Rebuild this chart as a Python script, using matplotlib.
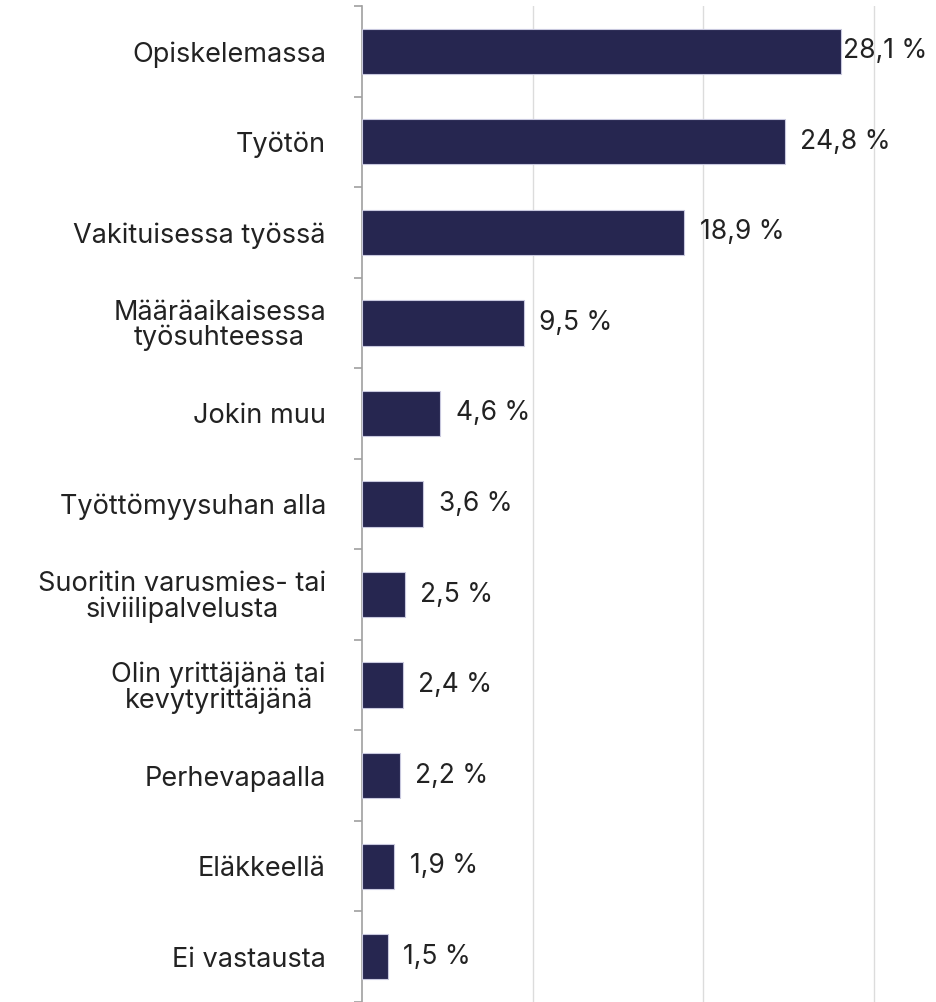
import numpy as np
import matplotlib
matplotlib.use("Agg")
import matplotlib.pyplot as plt

categories = [
    "Opiskelemassa",
    "Työtön",
    "Vakituisessa työssä",
    "Määräaikaisessa\ntyösuhteessa",
    "Jokin muu",
    "Työttömyysuhan alla",
    "Suoritin varusmies- tai\nsiviilipalvelusta",
    "Olin yrittäjänä tai\nkevytyrittäjänä",
    "Perhevapaalla",
    "Eläkkeellä",
    "Ei vastausta",
]
values = [28.1, 24.8, 18.9, 9.5, 4.6, 3.6, 2.5, 2.4, 2.2, 1.9, 1.5]
gridlines = [10, 20, 30]

plt.rcParams["font.family"] = ["Inter", "DejaVu Sans"]

fig = plt.figure(figsize=(9.36, 10.02), dpi=100)
ax = fig.add_axes([362 / 936, 0.0, 1 - 362 / 936, 1 - 6 / 1002])

y = np.arange(len(categories))
ax.barh(y, values, height=0.5, color="#262650", edgecolor="#c8c8de", linewidth=0.8, zorder=3)

ax.set_xlim(0, 33.65)
ax.set_ylim(len(categories) - 0.5, -0.5)

for g in gridlines:
    ax.axvline(g, color="#dcdcdc", linewidth=1, zorder=1)

for i, v in enumerate(values):
    pad = 1 if v == max(values) else 11
    ax.annotate(f"{v:.1f} %".replace(".", ","), (v, i), xytext=(pad, 0),
                textcoords="offset points", va="center", ha="left",
                fontsize=19, color="#222222")

ax.set_yticks(y)
ax.set_yticklabels(categories, fontsize=19.5, color="#222222",
                   multialignment="center", linespacing=0.95)
ax.set_yticks(np.arange(-0.5, len(categories) + 0.5, 1), minor=True)
ax.tick_params(axis="y", which="major", length=0, pad=26)
ax.tick_params(axis="y", which="minor", length=6, color="#a0a0a0", width=1.2)
ax.set_xticks([])

for s in ["top", "right", "bottom"]:
    ax.spines[s].set_visible(False)
ax.spines["left"].set_color("#a0a0a0")
ax.spines["left"].set_linewidth(1.2)

fig.savefig("out.png", dpi=100)
